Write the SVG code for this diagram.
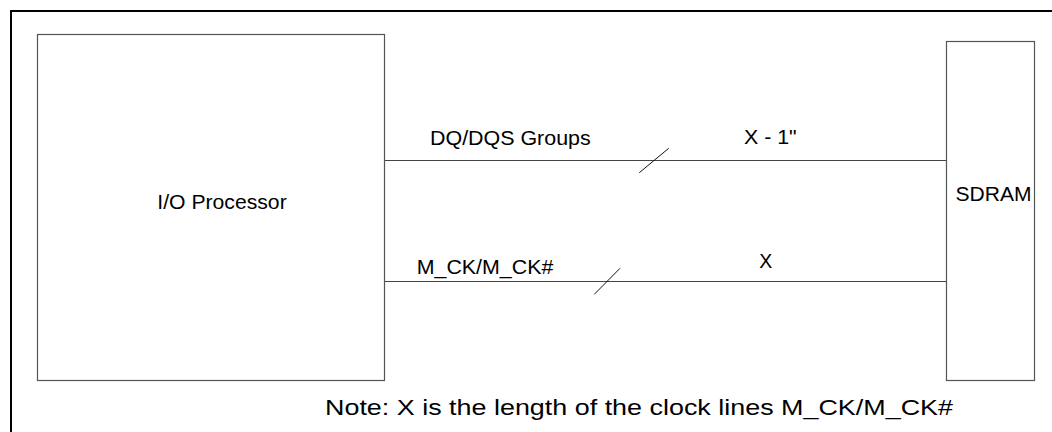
<svg xmlns="http://www.w3.org/2000/svg" width="1052" height="432" viewBox="0 0 1052 432">
  <style>
    .box { fill: #ffffff; stroke: #555555; stroke-width: 1.2; }
    .wire { stroke: #444444; stroke-width: 1.2; fill: none; }
    .tick { stroke: #111111; stroke-width: 1; fill: none; }
    .lbl { font-family: "Liberation Sans", Arial, sans-serif; font-size: 20.5px; fill: #000000; }
  </style>
  <rect x="0" y="0" width="1052" height="432" fill="#ffffff"/>
  <rect id="frame" x="11" y="11" width="1100" height="500" fill="none" stroke="#000000" stroke-width="2"/>

  <g id="connectors">
    <line class="wire" x1="384.5" y1="160.5" x2="946.5" y2="160.5"/>
    <line class="tick" x1="639.3" y1="172.7" x2="668.7" y2="148.3"/>
    <line class="wire" x1="384.5" y1="281.5" x2="946.5" y2="281.5"/>
    <line class="tick" x1="594.3" y1="294.3" x2="620" y2="268.3"/>
    <text class="lbl" x="430" y="145" textLength="160.7" lengthAdjust="spacingAndGlyphs">DQ/DQS Groups</text>
    <text class="lbl" x="744" y="144" textLength="52.7" lengthAdjust="spacingAndGlyphs">X - 1"</text>
    <text class="lbl" x="416.7" y="274.3" textLength="136.6" lengthAdjust="spacingAndGlyphs">M_CK/M_CK#</text>
    <text class="lbl" x="759.3" y="268" textLength="13" lengthAdjust="spacingAndGlyphs">X</text>
  </g>

  <g id="io-processor">
    <rect class="box" x="37.5" y="34.5" width="347" height="346"/>
    <text class="lbl" x="157.3" y="209.3" textLength="129.4" lengthAdjust="spacingAndGlyphs">I/O Processor</text>
  </g>

  <g id="sdram">
    <rect class="box" x="946.5" y="41.5" width="88" height="339"/>
    <text class="lbl" x="955.5" y="200.5" textLength="76" lengthAdjust="spacingAndGlyphs">SDRAM</text>
  </g>

  <text id="note" class="lbl" x="325" y="414.5" style="font-size:22px" textLength="628" lengthAdjust="spacingAndGlyphs">Note: X is the length of the clock lines M_CK/M_CK#</text>
</svg>
